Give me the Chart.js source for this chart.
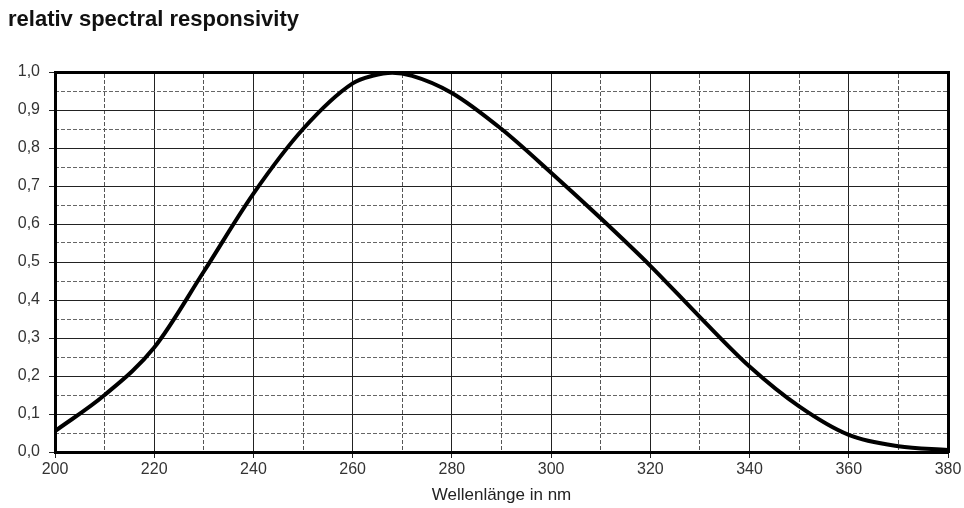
<!DOCTYPE html>
<html>
<head>
<meta charset="utf-8">
<script src="https://cdn.jsdelivr.net/npm/chart.js@4"></script>
<style>
  html,body{margin:0;padding:0;background:#fff;}
  #wrap{width:964px;height:508px;}
</style>
</head>
<body>
<div id="wrap"><canvas id="c" width="964" height="508"></canvas></div>
<script>
// wavelength (nm) and relative responsivity
const wavelengths = [200, 210, 220, 230, 240, 250, 260, 264, 268, 272, 280, 290, 300, 310, 320, 330, 340, 350, 360, 370, 380];
const responsivity = [0.055, 0.15, 0.275, 0.475, 0.68, 0.85, 0.97, 0.99, 0.998, 0.99, 0.945, 0.85, 0.735, 0.615, 0.49, 0.355, 0.225, 0.12, 0.045, 0.015, 0.005];
const xRange = [200, 380];
const yRange = [0, 1];

const FONT = '"Liberation Sans", Arial, sans-serif';
const fmt = v => v.toFixed(1).replace('.', ',');

new Chart(document.getElementById('c'), {
  type: 'line',
  data: {
    datasets: [{
      data: wavelengths.map((w, i) => ({ x: w, y: responsivity[i] })),
      borderColor: '#000', borderWidth: 4, pointRadius: 0,
      cubicInterpolationMode: 'monotone', fill: false
    }]
  },
  options: {
    responsive: false, animation: false,
    layout: { padding: { left: 8, right: 16, top: 0, bottom: 0 } },
    plugins: {
      legend: { display: false }, tooltip: { enabled: false },
      title: {
        display: true, text: 'relativ spectral responsivity', align: 'start', color: '#111',
        font: { family: FONT, size: 22, weight: 'bold' }, padding: { top: 7, bottom: 38.6 }
      }
    },
    scales: {
      x: {
        type: 'linear', min: xRange[0], max: xRange[1], position: 'bottom',
        afterFit: s => { s.height = 56; },
        ticks: { stepSize: 20, color: '#333', font: { family: FONT, size: 16 }, padding: 2, callback: v => v },
        grid: { color: c => c.tick && (c.tick.value === xRange[0] || c.tick.value === xRange[1]) ? 'rgba(0,0,0,0)' : '#222', lineWidth: 1, tickLength: 6, tickColor: '#222' },
        border: { color: '#000', width: 3 },
        title: { display: true, text: 'Wellenlänge in nm', color: '#222', font: { family: FONT, size: 17 }, padding: { top: 0, bottom: 2 } }
      },
      x2: {
        type: 'linear', min: xRange[0], max: xRange[1], position: 'top',
        afterFit: s => { s.height = 0; },
        ticks: { display: false, stepSize: 10 },
        grid: { drawTicks: false, color: c => c.tick && c.tick.value % 20 === 0 ? 'rgba(0,0,0,0)' : '#555', lineWidth: 1 },
        border: { color: '#000', width: 3, dash: [4, 2] }
      },
      y: {
        type: 'linear', min: yRange[0], max: yRange[1], position: 'left',
        afterFit: s => { s.width = 47; },
        ticks: { stepSize: 0.1, color: '#333', font: { family: FONT, size: 16 }, padding: 9, callback: v => fmt(v) },
        grid: { color: c => c.tick && (c.tick.value === yRange[0] || Math.abs(c.tick.value - yRange[1]) < 1e-6) ? 'rgba(0,0,0,0)' : '#222', lineWidth: 1, tickLength: 6, tickColor: '#222' },
        border: { color: '#000', width: 3 }
      },
      y2: {
        type: 'linear', min: yRange[0], max: yRange[1], position: 'right',
        afterFit: s => { s.width = 0; },
        ticks: { display: false, stepSize: 0.05 },
        grid: { drawTicks: false, color: c => c.tick && Math.abs(Math.round(c.tick.value * 20)) % 2 === 0 ? 'rgba(0,0,0,0)' : '#666', lineWidth: 1 },
        border: { color: '#000', width: 3, dash: [4, 2] }
      }
    }
  }
});
</script>
</body>
</html>
